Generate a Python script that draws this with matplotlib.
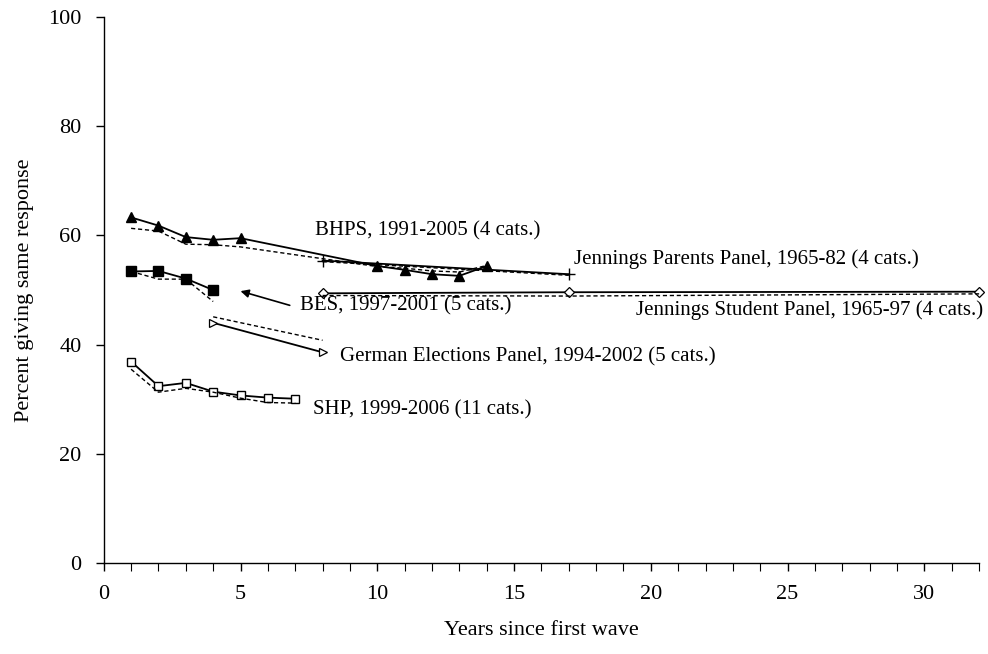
import matplotlib
matplotlib.use("Agg")
import matplotlib.pyplot as plt

bhps_x = [1, 2, 3, 4, 5, 10, 11, 12, 13, 14]
bhps_obs = [63.3, 61.8, 59.7, 59.2, 59.5, 54.4, 53.7, 52.9, 52.6, 54.4]
bhps_fit = [61.3, 60.8, 58.4, 58.3, 57.9, 54.3, 54.0, 53.5, 53.3, 54.5]

bes_x = [1, 2, 3, 4]
bes_obs = [53.4, 53.5, 52.1, 50.0]
bes_fit = [53.4, 52.0, 52.0, 47.9]

shp_x = [1, 2, 3, 4, 5, 6, 7]
shp_obs = [36.9, 32.4, 33.0, 31.4, 30.7, 30.3, 30.1]
shp_fit = [35.5, 31.3, 32.0, 31.3, 30.2, 29.4, 29.3]

gep_x = [4, 8]
gep_obs = [44.0, 38.6]
gep_fit = [45.1, 40.8]

jpar_x = [8, 17]
jpar_obs = [55.4, 52.9]
jpar_fit = [55.2, 52.7]

jstu_x = [8, 17, 32]
jstu_obs = [49.4, 49.6, 49.7]
jstu_fit = [49.0, 48.9, 49.3]

plt.rcParams['font.family'] = ['Liberation Serif', 'DejaVu Serif']

fig = plt.figure(figsize=(9.88, 6.54), dpi=100)
ax = fig.add_axes([0.105, 0.139, 0.886, 0.835])

solid = dict(color='black', lw=1.3, ls='-', clip_on=False)
dashed = dict(color='black', lw=1.0, ls=(0, (3, 2)), clip_on=False)

ax.plot(bhps_x, bhps_obs, marker='^', ms=7, mfc='black', mec='black', **solid)
ax.plot(bhps_x, bhps_fit, **dashed)

ax.plot(bes_x, bes_obs, marker='s', ms=7, mfc='black', mec='black', **solid)
ax.plot(bes_x, bes_fit, **dashed)

ax.plot(shp_x, shp_obs, marker='s', ms=6, mfc='white', mec='black', mew=1.0, **solid)
ax.plot(shp_x, shp_fit, **dashed)

ax.plot(gep_x, gep_obs, marker='>', ms=6, mfc='white', mec='black', mew=0.9, **solid)
ax.plot(gep_x, gep_fit, **dashed)

ax.plot(jpar_x, jpar_obs, marker='+', ms=9, mec='black', mew=1.0, **solid)
ax.plot(jpar_x, jpar_fit, **dashed)

ax.plot(jstu_x, jstu_obs, marker='D', ms=5, mfc='white', mec='black', mew=0.9, **solid)
ax.plot(jstu_x, jstu_fit, **dashed)

fs_note = 15
ax.text(7.71, 60.8, 'BHPS, 1991-2005 (4 cats.)', fontsize=fs_note, va='center')
ax.text(17.2, 55.7, 'Jennings Parents Panel, 1965-82 (4 cats.)', fontsize=fs_note, va='center')
ax.text(7.16, 47.1, 'BES, 1997-2001 (5 cats.)', fontsize=fs_note, va='center')
ax.text(19.45, 46.3, 'Jennings Student Panel, 1965-97 (4 cats.)', fontsize=fs_note, va='center')
ax.text(8.63, 37.7, 'German Elections Panel, 1994-2002 (5 cats.)', fontsize=fs_note, va='center')
ax.text(7.64, 28.0, 'SHP, 1999-2006 (11 cats.)', fontsize=fs_note, va='center')

ax.annotate('', xy=(5.0, 49.8), xytext=(6.8, 47.2),
            arrowprops=dict(arrowstyle='-|>', color='black', lw=1.2,
                            mutation_scale=12, shrinkA=0, shrinkB=0))

ax.set_xlim(0, 32)
ax.set_ylim(0, 100)
ax.set_xticks(range(0, 33, 5))
ax.set_xticks(range(0, 33), minor=True)
ax.set_yticks(range(0, 101, 20))

for s in ['top', 'right']:
    ax.spines[s].set_visible(False)
for s in ['left', 'bottom']:
    ax.spines[s].set_linewidth(1.0)

ax.tick_params(axis='both', which='major', direction='out', length=6, width=1.0, labelsize=16)
ax.tick_params(axis='x', which='minor', direction='out', length=6, width=0.8)
ax.tick_params(axis='x', which='major', pad=10)
ax.tick_params(axis='y', which='major', pad=10)

ax.set_xlabel('Years since first wave', fontsize=16, labelpad=12)
ax.set_ylabel('Percent giving same response', fontsize=16, labelpad=10)

plt.savefig('out.png', dpi=100)
